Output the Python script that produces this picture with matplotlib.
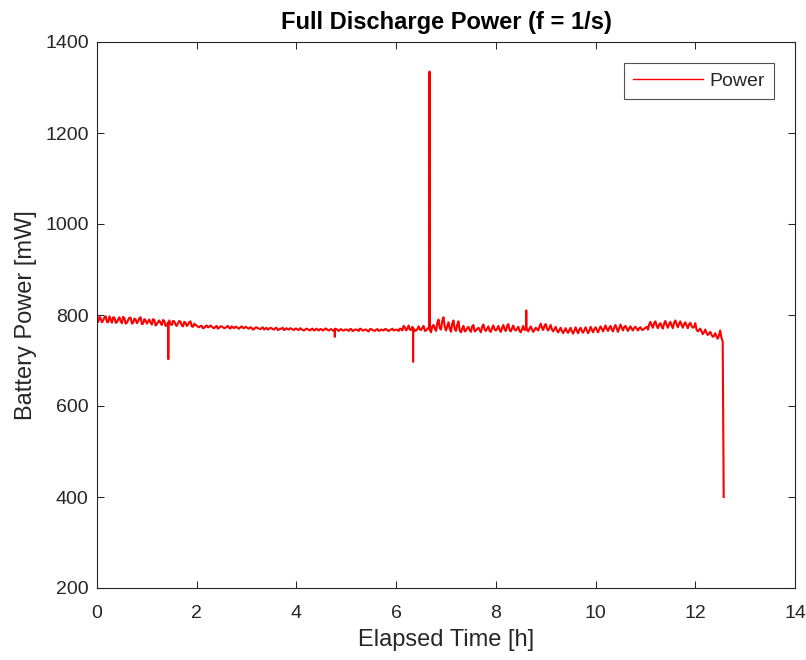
import numpy as np
import matplotlib
matplotlib.use("Agg")
import matplotlib.pyplot as plt

# ---- data ----
# samples every 0.05 h starting at 0.00 h, values in mW
sample_step_h = 0.05
power_samples = [
    # 0.00 - 0.95
    790, 796, 784, 795, 785, 797, 783, 794, 784, 795, 782, 793, 783, 794, 781, 792, 782, 793, 780, 791,
    # 1.00 - 1.95
    781, 790, 779, 789, 780, 788, 778, 787, 777, 788, 778, 786, 776, 787, 777, 785, 776, 784, 775, 781,
    # 2.00 - 2.95
    777, 773, 776, 772, 777, 774, 775, 771, 776, 772, 775, 771, 774, 772, 775, 771, 774, 770, 775, 771,
    # 3.00 - 3.95
    773, 770, 772, 769, 773, 770, 771, 768, 772, 769, 771, 768, 772, 768, 770, 767, 771, 768, 770, 767,
    # 4.00 - 4.95
    770, 767, 769, 766, 770, 767, 769, 766, 770, 766, 769, 767, 770, 766, 769, 766, 769, 765, 769, 766,
    # 5.00 - 5.95
    768, 765, 769, 766, 768, 765, 769, 766, 768, 764, 769, 766, 768, 765, 768, 766, 769, 765, 768, 766,
    # 6.00 - 6.95
    768, 765, 769, 776, 766, 777, 767, 770, 766, 775, 767, 776, 766, 772, 762, 778, 765, 790, 768, 795,
    # 7.00 - 7.95
    766, 784, 763, 788, 765, 786, 762, 776, 766, 774, 763, 778, 766, 772, 762, 779, 765, 775, 763, 777,
    # 8.00 - 8.95
    766, 776, 763, 778, 765, 780, 764, 777, 766, 774, 762, 776, 770, 764, 775, 763, 772, 766, 781, 767,
    # 9.00 - 9.95
    780, 766, 778, 764, 774, 762, 772, 760, 771, 761, 772, 759, 773, 760, 772, 761, 773, 760, 774, 762,
    # 10.00 - 10.95
    773, 762, 775, 764, 777, 765, 776, 764, 778, 763, 779, 766, 776, 765, 775, 766, 774, 766, 773, 767,
    # 11.00 - 11.95
    772, 768, 785, 772, 786, 771, 782, 770, 787, 772, 785, 771, 788, 773, 786, 772, 784, 771, 783, 772,
    # 12.00 - 12.55
    782, 764, 770, 758, 768, 756, 763, 752, 760, 748, 766, 742,
]
# samples in between, every 0.05 h starting at 0.025 h, values in mW
mid_offset_h = 0.025
power_samples_mid = [
    # 0.025 - 0.975
    785, 792, 788, 797, 784, 790, 795, 783, 791, 786, 796, 781, 789, 794, 783, 790, 786, 795, 781, 788,
    # 1.025 - 1.975
    786, 783, 791, 777, 785, 782, 789, 776, 784, 780, 787, 779, 782, 785, 775, 783, 779, 786, 774, 778,
    # 2.025 - 2.975
    774, 776, 771, 775, 773, 777, 772, 774, 770, 775, 773, 772, 776, 770, 773, 774, 771, 773, 772, 774,
    # 3.025 - 3.975
    771, 773, 768, 772, 771, 769, 773, 770, 768, 772, 769, 771, 767, 770, 772, 768, 769, 771, 768, 770,
    # 4.025 - 4.975
    768, 771, 767, 768, 769, 766, 770, 767, 768, 769, 766, 770, 767, 768, 766, 770, 767, 768, 766, 768,
    # 5.025 - 5.975
    767, 769, 765, 768, 767, 770, 766, 768, 765, 769, 767, 765, 769, 766, 767, 769, 766, 767, 770, 767,
    # 6.025 - 6.975
    767, 770, 766, 773, 770, 768, 774, 765, 769, 768, 772, 765, 770, 768, 775, 770, 782, 771, 787, 774,
    # 7.025 - 7.975
    775, 770, 781, 769, 778, 766, 770, 764, 771, 767, 775, 764, 769, 767, 774, 768, 770, 765, 772, 768,
    # 8.025 - 8.975
    770, 767, 772, 768, 776, 767, 771, 768, 770, 765, 769, 767, 768, 770, 768, 767, 769, 774, 772, 776,
    # 9.025 - 9.975
    770, 772, 768, 769, 766, 767, 765, 766, 764, 767, 764, 766, 765, 768, 765, 767, 766, 765, 768, 769,
    # 10.025 - 10.975
    767, 769, 770, 771, 769, 772, 768, 773, 770, 771, 772, 774, 770, 771, 769, 772, 770, 771, 768, 770,
    # 11.025 - 11.975
    774, 779, 777, 782, 776, 779, 775, 781, 778, 780, 777, 783, 780, 781, 778, 780, 777, 779, 776, 774,
    # 12.025 - 12.525
    768, 767, 764, 762, 761, 759, 757, 754, 753, 755, 750,
]
# isolated one-second spikes (with the readings just before/after) and the final collapse
spike_times_h = [1.429, 1.43, 1.431,
                 4.769, 4.77, 4.771,
                 6.339, 6.34, 6.341,
                 6.669, 6.67, 6.671,
                 8.609, 8.61, 8.611,
                 12.57]
spike_power_mw = [780, 703, 779,
                  768, 752, 767,
                  768, 697, 769,
                  770, 1335, 768,
                  770, 810, 768,
                  400]

series_label = "Power"
title_text = "Full Discharge Power (f = 1/s)"
xlabel_text = "Elapsed Time [h]"
ylabel_text = "Battery Power [mW]"
x_ticks = [0, 2, 4, 6, 8, 10, 12, 14]
y_ticks = [200, 400, 600, 800, 1000, 1200, 1400]

# ---- assemble series ----
t_main = np.arange(len(power_samples)) * sample_step_h
t_mid = mid_offset_h + np.arange(len(power_samples_mid)) * sample_step_h
t_all = np.concatenate([t_main, t_mid, np.array(spike_times_h)])
p_all = np.concatenate([np.array(power_samples, float),
                        np.array(power_samples_mid, float),
                        np.array(spike_power_mw, float)])
order = np.argsort(t_all, kind="stable")
t_all = t_all[order]
p_all = p_all[order]

# ---- figure ----
plt.rcParams['font.family'] = ['Liberation Sans', 'DejaVu Sans']
axis_color = '#262626'

fig = plt.figure(figsize=(8.06, 6.60), dpi=100)
ax = fig.add_axes([97/806, 1 - 588/660, (795-97)/806, (588-42)/660])

ax.plot(t_all, p_all, color='#ff0000', linewidth=1.5, label=series_label)

ax.set_xlim(0, 14)
ax.set_ylim(200, 1400)
ax.set_xticks(x_ticks)
ax.set_yticks(y_ticks)

ax.tick_params(direction='in', length=5, width=0.75, colors=axis_color,
               labelsize=14, top=True, right=True)
ax.tick_params(axis='x', pad=12)
ax.tick_params(axis='y', pad=6)
for s in ax.spines.values():
    s.set_color(axis_color)
    s.set_linewidth(0.8)

ax.set_title(title_text, fontsize=17, fontweight='bold', color='black', pad=9)
ax.set_xlabel(xlabel_text, fontsize=17, color=axis_color, labelpad=5)
ax.set_ylabel(ylabel_text, fontsize=17, color=axis_color, labelpad=6)

leg = ax.legend(loc='upper right', fontsize=14, frameon=True, fancybox=False,
                edgecolor=axis_color, borderaxespad=1.1, handlelength=3.6,
                handletextpad=0.35, borderpad=0.45)
leg.get_frame().set_linewidth(0.8)
leg.get_lines()[0].set_linewidth(1.0)
for txt in leg.get_texts():
    txt.set_color(axis_color)

fig.savefig("out.png", dpi=100, facecolor='white')
